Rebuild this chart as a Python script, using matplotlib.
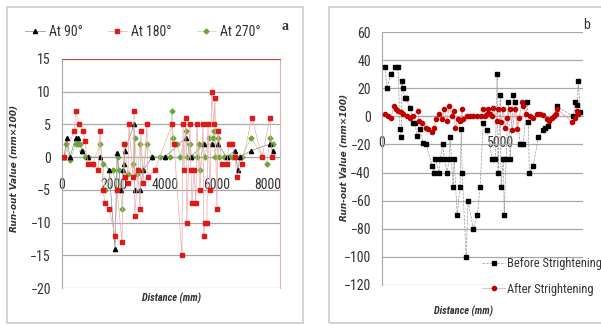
import matplotlib.pyplot as plt
from matplotlib.patches import Rectangle
from matplotlib import font_manager

# ---- panel a: run-out at three angles (distance in mm, value in mm x 100)
a90_dist = [80, 190, 310, 540, 620, 780, 1010, 1480, 1830, 2060, 2140, 2290,
            2370, 2410, 2450, 2800, 2830, 3030, 3150, 3500, 4000, 4810, 5000,
            5510, 5820, 6060, 6400, 6720, 6830, 6910, 7340, 8080, 8190]
a90_val = [0, 3, 0, 3, 3, 1, 0, 0, -2, -14, 0.6, -5,
           -2, -1, 1, 5, -5, -5, -2, 0, 0, 3, 0,
           2, 2, 2, 0, 1, -2, 0, 1, 2, 1]

a180_dist = [80, 470, 540, 660, 820, 890, 1010, 1200, 1400, 1480, 1590, 1670,
             1830, 2060, 2140, 2330, 2410, 2450, 2560, 2600, 2760, 2800, 2830,
             2950, 3030, 3070, 3150, 3300, 3340, 3610, 4270, 4350, 4660, 4700,
             4740, 4810, 4850, 4970, 5010, 5050, 5130, 5200, 5240, 5360, 5480,
             5510, 5550, 5630, 5670, 5750, 5820, 5900, 5940, 6020, 6060, 6210,
             6410, 6480, 6600, 6720, 6800, 6990, 7380, 7770, 8080, 8150]
a180_val = [0, 4, 7, 5, 4, 2.5, -1, -1, -2, 4, -5, -7,
            -8, -12, -5, -13, 2, -3, -4, 5, -3, 7, -9,
            -2, -8, 4, -4, 5, -3, -2, 5, 2, -15, 5,
            -2, 6, -10, 5, -2, -7, -2, -7, 5, -5, 5,
            -12, -10, -10, 5, -5, 10, 5, 9, -8, 4, -1,
            -1, 2, 2, 0, -3, -1, 6, 0, 6, 0]

a270_dist = [80, 155, 310, 540, 620, 700, 780, 890, 1010, 1200, 1480, 1590,
             1670, 1980, 2140, 2170, 2210, 2330, 2450, 2560, 2760, 2830, 2910,
             2950, 3030, 3150, 3300, 3500, 3800, 4000, 4190, 4270, 4310, 4470,
             4600, 4810, 4850, 4970, 5050, 5240, 5320, 5360, 5480, 5550, 5710,
             5860, 5900, 5940, 6060, 6100, 6300, 6480, 6600, 6720, 6910, 7000,
             7340, 7960, 8080, 8190]
a270_val = [0, 2, -0.5, 2, 2, 2, 1, 0, 0, -1, 2, -1,
            -5, -2, -5, 0, -2, -8, 2, -2.6, -1, 3, -2.6,
            -2, 2, -2, 2, 0, 0, 0, 0, 7, 3, 2,
            0, 4, 0, 2, 0, 0, 2, -2, 2, 0, 3,
            3, 4, 0, 3, 0, 0, 0, 0, 0, 0, 0,
            3, -1, 3, 2]

# ---- panel b: before / after straightening
before_dist = [130, 210, 380, 550, 680, 760, 810, 850, 890, 970, 1020, 1190,
               1310, 1400, 1480, 1610, 1740, 1860, 2120, 2200, 2250, 2420, 2460,
               2580, 2630, 2750, 2840, 2880, 3010, 3050, 3180, 3300, 3350, 3390,
               3560, 3640, 3860, 4030, 4150, 4280, 4450, 4660, 4790, 4870, 4910,
               5000, 5040, 5130, 5170, 5250, 5340, 5420, 5550, 5640, 5850, 5970,
               6140, 6190, 6230, 6400, 6610, 6820, 6910, 7030, 7410, 8090, 8180,
               8260, 8300, 8390]
before_val = [35, 20, 30, 35, 35, -9, -15, 25, 20, 13, 13, 6,
              -5, -5, -14, -9, -19, -20, -35, -40, -30, -40, -30,
              -20, -30, -40, -30, -15, -50, -30, -70, -50, -9, -40,
              -100, -60, -80, -70, -50, -5, -10, -30, -30, 30, -40,
              15, -50, -30, -70, -30, 10, -30, 15, 10, -20, -20,
              10, -4, -40, -35, -15, -10, -8, -7, 7, 0, 10,
              8, 25, 3]

after_dist = [130, 250, 380, 510, 590, 680, 810, 890, 1060, 1190, 1310, 1530,
              1570, 1690, 1860, 1950, 2120, 2200, 2290, 2420, 2540, 2630, 2750,
              2840, 2970, 3050, 3090, 3220, 3300, 3390, 3430, 3600, 3730, 3860,
              4030, 4190, 4280, 4360, 4450, 4490, 4580, 4660, 4700, 4870, 4910,
              5040, 5130, 5210, 5300, 5420, 5510, 5640, 5720, 5800, 5930, 5970,
              6100, 6270, 6400, 6570, 6690, 6820, 6990, 7080, 7200, 7290, 7370,
              7410, 8050, 8180, 8260, 8300]
after_val = [2, 0.5, -1, 7, 5, 4, 3, 2, 0, -1, 0, 4,
             -3, -5, -8, -9, -11, -8, -2, 2, -2, 5, -3,
             7, 0, 4, -8, -2, -3, 5, -2, 0, 0, 0,
             0, 0, 5, 0, 2, 5, 2, 0, 6, -3, 5,
             -4, 5, -8, -1, 5, -10, 5, -9, -1, 10, 7,
             2, 0, -1, 2, 2, 1, -2, -3, -1, 0, 2,
             5, -4, -1, 4, 2]

# narrow face if the system has one, else Liberation Sans
installed = {f.name for f in font_manager.fontManager.ttflist}
narrow = 'Liberation Sans'
for name in ['Liberation Sans Narrow', 'DejaVu Sans Condensed', 'Roboto Condensed']:
    if name in installed:
        narrow = name
        break
plt.rcParams['font.family'] = [narrow, 'DejaVu Sans']
fs = 10 if narrow != 'Liberation Sans' else 9

W, H = 601, 325
fig = plt.figure(figsize=(W / 100, H / 100), dpi=100)


def px_box(x0, y0, x1, y1):
    return [x0 / W, 1 - y1 / H, (x1 - x0) / W, (y1 - y0) / H]


# outer frames of the two scanned panels
for x0, x1 in [(7, 303), (329, 606)]:
    fig.add_artist(Rectangle((x0 / W, 1 - 323 / H), (x1 - x0) / W, 316 / H,
                             transform=fig.transFigure, fill=False,
                             ec='#cccccc', lw=1.2))

grid_c = '#a8a8a8'
text_c = '#333333'

# ---------------- panel a
ax1 = fig.add_axes(px_box(62, 59, 280, 288))
ax1.plot(a90_dist, a90_val, color='#888888', lw=0.5, marker='^', ms=3,
         mfc='black', mec='black', zorder=4, label='At 90°')
ax1.plot(a180_dist, a180_val, color='#eeaaaa', lw=0.5, marker='s', ms=3.5,
         mfc='#e01818', mec='#e01818', zorder=5, label='At 180°')
ax1.plot(a270_dist, a270_val, color='#b8d8a0', lw=0.5, marker='D', ms=2.5,
         mfc='#6aa636', mec='#6aa636', zorder=3, label='At 270°')

ax1.set_xlim(0, 8470)
ax1.set_ylim(-20, 15)
ax1.set_xticks(range(0, 8001, 2000))
ax1.set_yticks(range(-20, 16, 5))
ax1.set_axisbelow(True)
ax1.grid(axis='y', color=grid_c, lw=0.9)
ax1.spines['bottom'].set_position(('data', 0))
ax1.spines['bottom'].set_color(grid_c)
ax1.spines['left'].set_color(grid_c)
ax1.spines['top'].set_color('#c0504d')
ax1.spines['right'].set_color('#e0b0b0')
ax1.tick_params(length=0, labelsize=fs, colors=text_c)
ax1.tick_params(axis='x', pad=15)
ax1.tick_params(axis='y', pad=8)

ax1.legend(loc='center', bbox_to_anchor=(143 / W, 1 - 32 / H),
           bbox_transform=fig.transFigure, ncol=3, frameon=False,
           fontsize=fs, handlelength=1.4, handletextpad=0.3,
           columnspacing=1.8, labelcolor=text_c)

fig.text(15 / W, 1 - 168 / H, 'Run-out Value (mm×100)', rotation=90,
         ha='center', va='center', fontsize=6.5, fontweight='bold',
         fontstyle='italic', family='DejaVu Sans', color=text_c)
fig.text(171 / W, 1 - 298 / H, 'Distance (mm)', ha='center', va='center',
         fontsize=7.5, fontweight='bold', fontstyle='italic', color=text_c)
fig.text(285 / W, 1 - 27 / H, 'a', ha='center', va='center', fontsize=10,
         fontweight='bold', family='Liberation Serif', color=text_c)

# ---------------- panel b
ax2 = fig.add_axes(px_box(382, 32, 583, 285))
ax2.plot(before_dist, before_val, color='#999999', lw=0.5, ls='--',
         marker='s', ms=3, mfc='black', mec='black', zorder=3,
         label='Before Strightening')
ax2.plot(after_dist, after_val, color='#e0a0a0', lw=0.5, marker='o', ms=3,
         mfc='#c00000', mec='#c00000', zorder=4,
         label='After Strightening')

ax2.set_xlim(0, 8500)
ax2.set_ylim(-120, 60)
ax2.set_xticks([0, 5000])
ax2.set_yticks(range(-120, 61, 20))
ax2.set_axisbelow(True)
ax2.grid(axis='y', color=grid_c, lw=0.9)
ax2.spines['bottom'].set_position(('data', 0))
ax2.spines['bottom'].set_color(grid_c)
ax2.spines['left'].set_color(grid_c)
ax2.spines['top'].set_visible(False)
ax2.spines['right'].set_visible(False)
ax2.tick_params(length=0, labelsize=fs, colors=text_c)
ax2.tick_params(axis='x', pad=14)
ax2.tick_params(axis='y', pad=8)

ax2.legend(loc='upper left', bbox_to_anchor=(476 / W, 1 - 251 / H),
           bbox_transform=fig.transFigure, frameon=False, fontsize=fs - 1,
           handlelength=1.8, handletextpad=0.2, labelspacing=1.0,
           labelcolor=text_c, borderpad=0)

fig.text(345 / W, 1 - 157 / H, 'Run-out Value (mm×100)', rotation=90,
         ha='center', va='center', fontsize=6.5, fontweight='bold',
         fontstyle='italic', family='DejaVu Sans', color=text_c)
fig.text(464 / W, 1 - 311 / H, 'Distance (mm)', ha='center', va='center',
         fontsize=7.5, fontweight='bold', fontstyle='italic', color=text_c)
fig.text(587 / W, 1 - 25 / H, 'b', ha='center', va='center', fontsize=10,
         color=text_c)

fig.savefig('out.png', dpi=100, facecolor='white')
